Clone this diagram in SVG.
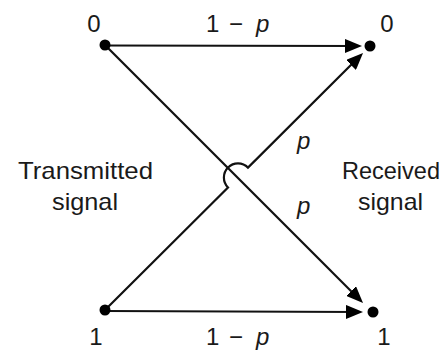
<svg xmlns="http://www.w3.org/2000/svg" width="443" height="354" viewBox="0 0 443 354">
<style>
.t{font-family:"Liberation Sans",Arial,sans-serif;font-size:24px;fill:#1a1a1a}
.i{font-style:italic}
.ln{fill:none;stroke:#111;stroke-width:2.2}
.dot{fill:#000}
</style>
<defs>
<marker id="ah" viewBox="0 0 17 14" refX="13" refY="7" markerWidth="17" markerHeight="14" markerUnits="userSpaceOnUse" orient="auto">
<path d="M0,0 L17,7 L0,14 z" fill="#000"/>
</marker>
</defs>
<rect width="443" height="354" fill="#fff"/>
<g id="connectors">
<path class="ln" d="M105,45.5 L358,46" marker-end="url(#ah)"/>
<path class="ln" d="M105,311 L359,312" marker-end="url(#ah)"/>
<path class="ln" d="M105,45 L360.2,300.2" marker-end="url(#ah)"/>
<path class="ln" d="M105,310 L228,187.5 A14 14 0 0 1 248,167.6 L360.2,55.8" marker-end="url(#ah)"/>
</g>
<g id="tx0"><circle class="dot" cx="105" cy="45" r="5.5"/><text class="t" x="94" y="32" text-anchor="middle">0</text></g>
<g id="rx0"><circle class="dot" cx="370" cy="46" r="5.5"/><text class="t" x="387" y="32" text-anchor="middle">0</text></g>
<g id="tx1"><circle class="dot" cx="105" cy="310" r="5.5"/><text class="t" x="96" y="345" text-anchor="middle">1</text></g>
<g id="rx1"><circle class="dot" cx="373" cy="312" r="5.5"/><text class="t" x="384" y="345" text-anchor="middle">1</text></g>
<g id="labels">
<text class="t" y="32"><tspan x="206">1</tspan><tspan x="229">−</tspan><tspan x="256" class="i">p</tspan></text>
<text class="t" y="345"><tspan x="206">1</tspan><tspan x="229">−</tspan><tspan x="256" class="i">p</tspan></text>
<text class="t i" x="297" y="149">p</text>
<text class="t i" x="297" y="214">p</text>
<text class="t" x="18" y="179" textLength="135" lengthAdjust="spacingAndGlyphs">Transmitted</text>
<text class="t" x="52" y="210" textLength="66" lengthAdjust="spacingAndGlyphs">signal</text>
<text class="t" x="342" y="179" textLength="98" lengthAdjust="spacingAndGlyphs">Received</text>
<text class="t" x="358" y="210" textLength="65" lengthAdjust="spacingAndGlyphs">signal</text>
</g>
</svg>
